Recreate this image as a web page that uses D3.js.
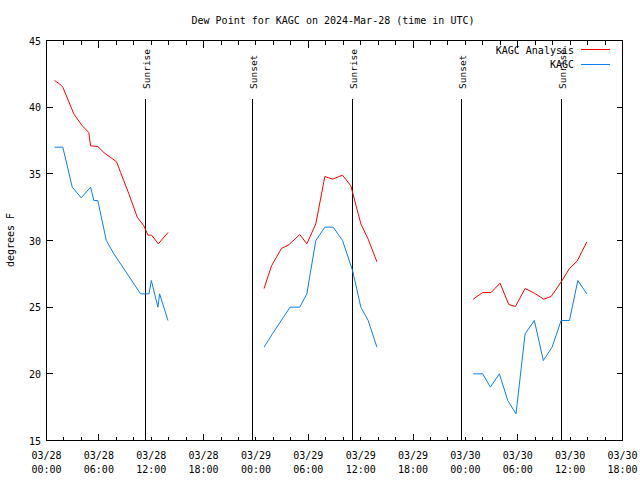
<!DOCTYPE html>
<html><head><meta charset="utf-8">
<script src="https://cdn.jsdelivr.net/npm/d3@7"></script>
<style>body{margin:0;background:#fff}svg{display:block}text{font-family:"DejaVu Sans Mono",monospace;fill:#000}</style>
</head><body><svg id="c" width="640" height="480"></svg>
<script>
// Hours since 2024-03-28 00:00 UTC
const start = Date.UTC(2024, 2, 28, 0, 0);
const analysisHours = [0.92,1.49,1.87,2.56,3.13,4.1,4.85,5.05,5.88,6.57,8.03,8.49,9.44,10.4,11.16,11.62,12.05,12.81,13.92,null,
  24.93,25.78,26.92,27.8,29.02,29.83,30.86,31.89,32.77,33.92,34.87,36.02,36.86,37.86,null,
  48.9,49.98,50.94,51.97,52.97,53.73,54.84,55.9,56.98,57.82,59.08,59.92,60.8,61.91];
const analysisValues = [42.0,41.75,41.5,40.4,39.5,38.6,38.1,37.1,37.05,36.6,35.9,35.1,33.5,31.75,31.1,30.4,30.4,29.75,30.6,null,
  26.4,28.1,29.4,29.7,30.45,29.75,31.25,34.8,34.6,34.9,34.1,31.25,30.1,28.4,null,
  25.6,26.1,26.1,26.8,25.2,25.05,26.4,26.05,25.6,25.8,27.0,27.9,28.45,29.9];
const obsHours = [0.92,1.87,2.95,3.98,5.05,5.43,5.88,6.85,7.72,10.78,11.74,12.01,12.77,12.96,13.92,null,
  24.93,25.89,27.91,29.02,29.83,30.86,31.89,32.85,33.92,35.07,36.02,36.86,37.86,null,
  48.9,49.98,50.86,51.89,52.85,53.8,54.84,55.9,56.93,57.93,58.97,59.92,60.88,61.91];
const obsValues = [37,37,34,33.2,34,33,33,30,29,26,26,27,25,26,24,null,
  22,23,25,25,26,30,31,31,30,27.75,25,24,22,null,
  20,20,19,20,18,17,23,24,21,22,24,24,27,26];
const sunEvents = [{h:11.24,label:"Sunrise"},{h:23.6,label:"Sunset"},{h:35.06,label:"Sunrise"},{h:47.44,label:"Sunset"},{h:58.9,label:"Sunrise"}];
const xTickHours = [0,6,12,18,24,30,36,42,48,54,60,66];
const yTicks = [15,20,25,30,35,40,45];
const seriesNames = ["KAGC Analysis","KAGC"];
const seriesColors = ["#ff0000","#0a80f0"];

const svg = d3.select("#c");
const L=46.5,R=622.5,T=40.5,B=440.5;
const x = d3.scaleLinear().domain([0,66]).range([L,R]);
const y = d3.scaleLinear().domain([15,45]).range([B,T]);
const fmtD = d3.utcFormat("%m/%d"), fmtT = d3.utcFormat("%H:%M");
const toDate = h => new Date(start + h*3600000);

svg.append("text").attr("x",333).attr("y",24).attr("text-anchor","middle").style("font-size","10px")
  .text("Dew Point for KAGC on 2024-Mar-28 (time in UTC)");

// ticks
const g = svg.append("g").attr("stroke","#000").attr("stroke-width",1).attr("shape-rendering","crispEdges");
d3.range(2,66,2).forEach(h=>{
  const len = (h%12===6)?7:4;
  g.append("line").attr("x1",x(h)).attr("x2",x(h)).attr("y1",B).attr("y2",B-len);
  g.append("line").attr("x1",x(h)).attr("x2",x(h)).attr("y1",T).attr("y2",T+len);
});
yTicks.forEach(v=>{
  g.append("line").attr("x1",L).attr("x2",L+6).attr("y1",y(v)).attr("y2",y(v));
  g.append("line").attr("x1",R).attr("x2",R-6).attr("y1",y(v)).attr("y2",y(v));
});

// axis labels
const xl = svg.append("g").style("font-size","10px").attr("text-anchor","middle");
xTickHours.forEach(h=>{
  xl.append("text").attr("x",x(h)).attr("y",459).text(fmtD(toDate(h)));
  xl.append("text").attr("x",x(h)).attr("y",473).text(fmtT(toDate(h)));
});
const yl = svg.append("g").style("font-size","10px").attr("text-anchor","end");
yTicks.forEach(v=>yl.append("text").attr("x",41).attr("y",y(v)+4).text(v));
svg.append("text").attr("transform","translate(14,240) rotate(-90)").attr("text-anchor","middle")
  .style("font-size","10px").text("degrees F");

// sun events
sunEvents.forEach(e=>{
  const xs = Math.round(x(e.h))+0.5;
  svg.append("line").attr("x1",xs).attr("x2",xs).attr("y1",99).attr("y2",B).attr("stroke","#000").attr("shape-rendering","crispEdges");
  svg.append("text").attr("transform",`translate(${xs+4},89) rotate(-90)`).style("font-size","9.5px").text(e.label);
});

// lines
const mk = (hs,vs)=>hs.map((h,i)=>({h,v:vs[i]}));
const line = d3.line().defined(d=>d.h!==null&&d.v!==null).x(d=>x(d.h)).y(d=>y(d.v));
svg.append("path").datum(mk(analysisHours,analysisValues)).attr("d",line).attr("fill","none").attr("stroke",seriesColors[0]).attr("stroke-width",1);
svg.append("path").datum(mk(obsHours,obsValues)).attr("d",line).attr("fill","none").attr("stroke",seriesColors[1]).attr("stroke-width",1);

// border
svg.append("rect").attr("x",L).attr("y",T).attr("width",R-L).attr("height",B-T).attr("fill","none").attr("stroke","#000").attr("shape-rendering","crispEdges");

// legend
seriesNames.forEach((n,i)=>{
  const ly = 49.5 + i*14.5;
  svg.append("text").attr("x",574).attr("y",ly+4).attr("text-anchor","end").style("font-size","10px").text(n);
  svg.append("line").attr("x1",581).attr("x2",610).attr("y1",ly).attr("y2",ly).attr("stroke",seriesColors[i]).attr("shape-rendering","crispEdges");
});
</script></body></html>
